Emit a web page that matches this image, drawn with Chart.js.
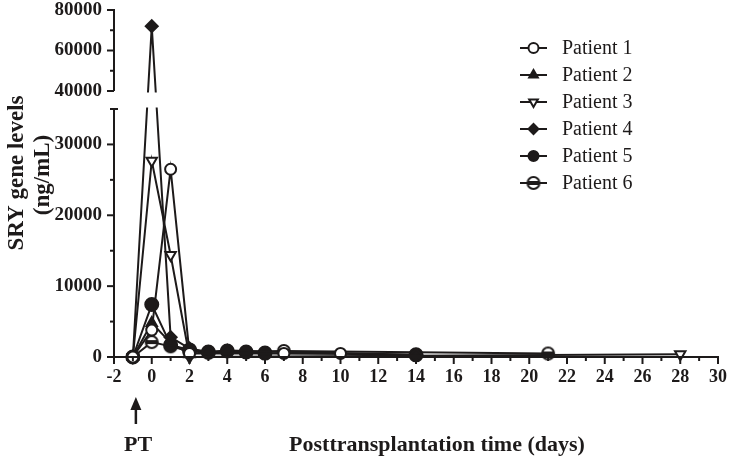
<!DOCTYPE html>
<html>
<head>
<meta charset="utf-8">
<script src="https://cdn.jsdelivr.net/npm/chart.js@4.4.0/dist/chart.umd.min.js"></script>
<style>
  html, body { margin: 0; padding: 0; background: #fff; }
</style>
</head>
<body>
<canvas id="chart" width="734" height="457"></canvas>
<script>
// DATA (null = no sample that day)
const days     = [-1, 0,     1,     2,    3,    4,    5,    6,    7,    10,   14,   21,   28];
const patient1 = [0,  3800,  26500, 500,  null, null, null, null, 500,  500,  null, null, null];
const patient2 = [0,  4800,  2000,  400,  null, null, null, null, null, null, null, null, null];
const patient3 = [0,  27700, 14400, 0,    null, null, null, null, null, null, null, null, 400];
const patient4 = [0,  72000, 2800,  1200, 700,  900,  null, null, null, null, 300,  null, null];
const patient5 = [0,  7400,  1700,  1000, 700,  850,  700,  550,  null, null, 300,  null, null];
const patient6 = [0,  2100,  1500,  800,  600,  null, null, null, 850,  null, null, 500,  null];
const names = ["Patient 1", "Patient 2", "Patient 3", "Patient 4", "Patient 5", "Patient 6"];

const yTicks = [0, 10000, 20000, 30000, 40000, 60000, 80000];
const yMinor = [5000, 15000, 25000, 50000, 70000];
const breakLow = 35000, breakHigh = 40000;

const ink = "#1d1a1a";
const serif = "'Liberation Serif', 'DejaVu Serif', serif";

// broken y axis: lower part 0-35000, upper part 40000-80000
const LOW_FRAC = 248 / 347, UP_FRAC = 81 / 347;
class BrokenScale extends Chart.LinearScale {
  getPixelForValue(v) {
    const h = this.bottom - this.top;
    const yl = this.bottom - h * LOW_FRAC, yh = this.top + h * UP_FRAC;
    if (v <= breakLow) return this.bottom - v / breakLow * (this.bottom - yl);
    if (v >= breakHigh) return this.top + (this.max - v) / (this.max - breakHigh) * (yh - this.top);
    return yl + (v - breakLow) / (breakHigh - breakLow) * (yh - yl);
  }
  getValueForPixel(p) {
    const h = this.bottom - this.top;
    const yl = this.bottom - h * LOW_FRAC, yh = this.top + h * UP_FRAC;
    if (p >= yl) return (this.bottom - p) / (this.bottom - yl) * breakLow;
    if (p <= yh) return this.max - (p - this.top) / (yh - this.top) * (this.max - breakHigh);
    return breakLow + (yl - p) / (yl - yh) * (breakHigh - breakLow);
  }
}
BrokenScale.id = "broken";
BrokenScale.defaults = Chart.LinearScale.defaults;
Chart.register(BrokenScale);

function points(vals) {
  const out = [];
  vals.forEach((v, i) => { if (v !== null) out.push({ x: days[i], y: v }); });
  return out;
}

// circle with a heavy bar through it
function barCircle(r) {
  const c = document.createElement("canvas");
  const s = 2 * r + 4;
  c.width = c.height = s;
  const g = c.getContext("2d");
  g.beginPath();
  g.arc(s / 2, s / 2, r, 0, Math.PI * 2);
  g.fillStyle = "#fff"; g.fill();
  g.lineWidth = 2; g.strokeStyle = ink; g.stroke();
  g.fillStyle = ink;
  g.fillRect(s / 2 - r, s / 2 - 2, 2 * r, 4);
  return c;
}

function series(label, vals, style, bg, radius, rot) {
  return {
    label, data: points(vals),
    borderColor: ink, borderWidth: 2, tension: 0, clip: false,
    pointStyle: style, pointRadius: radius, pointRotation: rot || 0,
    pointBackgroundColor: bg, pointBorderColor: ink, pointBorderWidth: 2
  };
}

const datasets = [
  series(names[0], patient1, "circle", "#fff", 5.5),
  series(names[1], patient2, "triangle", ink, 6),
  series(names[2], patient3, "triangle", "#fff", 6, 180),
  series(names[3], patient4, "rectRot", ink, 6),
  series(names[4], patient5, "circle", ink, 6.5),
  series(names[5], patient6, barCircle(6), "#fff", 6)
];

// white band across the axis break
const breakPlugin = {
  id: "breakBand",
  afterDatasetsDraw(chart) {
    const { ctx, chartArea } = chart;
    const ys = chart.scales.y;
    const a = ys.getPixelForValue(breakHigh), b = ys.getPixelForValue(breakLow);
    ctx.save();
    ctx.fillStyle = "#fff";
    ctx.fillRect(chartArea.left - 12, a + 1.5, chartArea.right - chartArea.left + 12, b - a - 3);
    ctx.restore();
  }
};

// axes, legend and titles
const decorPlugin = {
  id: "decor",
  afterDraw(chart) {
    const { ctx, chartArea } = chart;
    const xs = chart.scales.x, ys = chart.scales.y;
    const L = chartArea.left, B = ys.getPixelForValue(0);
    ctx.save();
    ctx.strokeStyle = ink; ctx.fillStyle = ink; ctx.lineWidth = 2;
    ctx.lineCap = "butt";

    const seg = (x1, y1, x2, y2) => { ctx.beginPath(); ctx.moveTo(x1, y1); ctx.lineTo(x2, y2); ctx.stroke(); };

    // y axis, two pieces
    const y35 = ys.getPixelForValue(breakLow), y40 = ys.getPixelForValue(breakHigh);
    seg(L, B + 1, L, y35);
    seg(L - 4, y35, L + 4, y35);
    seg(L, y40, L, ys.getPixelForValue(80000) - 1);
    yTicks.forEach(v => { const y = ys.getPixelForValue(v); seg(L - 7, y, L, y); });
    yMinor.forEach(v => { const y = ys.getPixelForValue(v); seg(L - 4, y, L, y); });

    // x axis
    seg(L - 1, B, chartArea.right + 1, B);
    for (let d = -2; d <= 30; d++) {
      const x = xs.getPixelForValue(d);
      seg(x, B, x, B + (d % 2 === 0 ? 7 : 4));
    }

    // legend
    datasets.forEach((ds, i) => {
      const y = 48 + i * 27;
      seg(520, y, 547, y);
      ctx.fillStyle = ds.pointBackgroundColor;
      ctx.strokeStyle = ink;
      Chart.helpers.drawPoint(ctx, {
        pointStyle: ds.pointStyle, radius: 5, rotation: ds.pointRotation, borderWidth: 2
      }, 533.5, y);
      ctx.fillStyle = ink;
      ctx.font = "20px " + serif;
      ctx.textAlign = "left"; ctx.textBaseline = "middle";
      ctx.fillText(ds.label, 562, y + 1);
    });

    // y title
    ctx.font = "bold 23px " + serif;
    ctx.textAlign = "center"; ctx.textBaseline = "middle";
    ctx.save();
    ctx.translate(17, 173); ctx.rotate(-Math.PI / 2);
    ctx.fillText("SRY gene levels", 0, 0);
    ctx.restore();
    ctx.save();
    ctx.translate(43, 175); ctx.rotate(-Math.PI / 2);
    ctx.fillText("(ng/mL)", 0, 0);
    ctx.restore();

    // x title and transplantation marker
    ctx.font = "bold 22px " + serif;
    ctx.textBaseline = "alphabetic";
    ctx.fillText("Posttransplantation time (days)", 437, 451);
    ctx.fillText("PT", 138, 451);
    const ax = xs.getPixelForValue(-1) + 3;
    ctx.lineWidth = 2.5;
    seg(ax, 408, ax, 424);
    ctx.beginPath();
    ctx.moveTo(ax, 397); ctx.lineTo(ax - 5.5, 410); ctx.lineTo(ax + 5.5, 410); ctx.closePath();
    ctx.fill();
    ctx.restore();
  }
};

new Chart(document.getElementById("chart"), {
  type: "line",
  data: { datasets },
  plugins: [breakPlugin, decorPlugin],
  options: {
    responsive: false,
    animation: false,
    layout: { padding: { top: 10, right: 16, left: 0, bottom: 0 } },
    plugins: { legend: { display: false }, tooltip: { enabled: false } },
    scales: {
      x: {
        type: "linear", min: -2, max: 30,
        grid: { display: false, drawTicks: false }, border: { display: false },
        ticks: { stepSize: 2, color: ink, padding: 10, font: { family: serif, size: 18, weight: "bold" },
          callback: v => String(v) },
        afterFit: s => { s.height = 100; s.paddingLeft = 0; s.paddingRight = 0; }
      },
      y: {
        type: "broken", min: 0, max: 80000,
        grid: { display: false, drawTicks: false }, border: { display: false },
        ticks: { color: ink, padding: 12, font: { family: serif, size: 19, weight: "bold" },
          callback: v => String(v) },
        afterBuildTicks: s => { s.ticks = yTicks.map(v => ({ value: v })); },
        afterFit: s => { s.width = 114; s.paddingTop = 0; s.paddingBottom = 0; }
      }
    }
  }
});
</script>
</body>
</html>
